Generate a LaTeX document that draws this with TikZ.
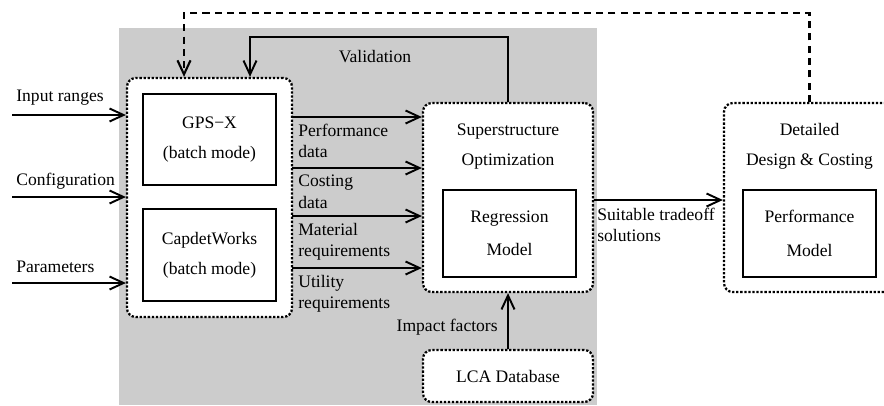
\documentclass[tikz,border=0pt]{standalone}
\usepackage{fontspec}
\setmainfont{Liberation Serif}
\usetikzlibrary{arrows.meta,positioning,calc}

\begin{document}
\begin{tikzpicture}[
    font=\fontsize{10}{12}\selectfont, >={Straight Barb[length=2.8mm, width=2.6mm]},
    grp/.style={rectangle, rounded corners=5pt, draw, dash pattern=on 1.3pt off 1pt, line width=1.3pt, fill=white},
    tool/.style={rectangle, draw, line width=1pt, fill=white, minimum width=2.66cm, align=center},
    head/.style={align=center, inner sep=0pt},
    lbl/.style={align=left, inner sep=0pt},
    flow/.style={->, line width=1.1pt},
    fb/.style={->, line width=1.2pt, dash pattern=on 4pt off 3pt}
]
    \useasboundingbox (0,0) rectangle (17.68,8.1);
    % shaded region
    \fill[black!20] (2.38,0) rectangle (11.94,7.54);
    % simulation tools
    \node[grp, minimum width=3.30cm, minimum height=4.78cm] (sim) at (4.19,4.15) {};
    \node[tool, minimum height=1.82cm] (gps) at (4.19,5.31) {GPS−X\\[5pt](batch mode)};
    \node[tool, minimum height=1.84cm] (capdet) at (4.19,3.00) {CapdetWorks\\[5pt](batch mode)};
    % optimization
    \node[grp, minimum width=3.40cm, minimum height=3.78cm] (super) at (10.16,4.15) {};
    \node[head] (supertxt) at (10.16,5.17) {Superstructure\\[5pt]Optimization};
    \node[tool, minimum height=1.74cm] (regr) at (10.19,3.43) {Regression\\[7pt]Model};
    \node[grp, minimum width=3.40cm, minimum height=1.04cm] (lca) at (10.16,0.58) {LCA Database};
    % detailed design
    \node[grp, minimum width=3.42cm, minimum height=3.78cm] (detail) at (16.19,4.15) {};
    \node[head] (detailtxt) at (16.19,5.17) {Detailed\\[5pt]Design \& Costing};
    \node[tool, minimum height=1.74cm] (perf) at (16.19,3.43) {Performance\\[7pt]Model};
    % inputs
    \coordinate (in1) at (0.24,5.80);
    \coordinate (in2) at (0.24,4.16);
    \coordinate (in3) at (0.24,2.44);
    \draw[flow] (in1) -- (in1 -| sim.west);
    \draw[flow] (in2) -- (in2 -| sim.west);
    \draw[flow] (in3) -- (in3 -| sim.west);
    \node[lbl, anchor=west] (inlbl) at (0.32,6.14) {Input ranges};
    \node[lbl, anchor=west] (conflbl) at (0.32,4.48) {Configuration};
    \node[lbl, anchor=west] (parlbl) at (0.32,2.76) {Parameters};
    % simulation outputs
    \coordinate (o1) at (5.84,5.76);
    \coordinate (o2) at (5.84,4.74);
    \coordinate (o3) at (5.84,3.78);
    \coordinate (o4) at (5.84,2.74);
    \draw[flow] (o1) -- (o1 -| super.west);
    \draw[flow] (o2) -- (o2 -| super.west);
    \draw[flow] (o3) -- (o3 -| super.west);
    \draw[flow] (o4) -- (o4 -| super.west);
    \node[lbl, anchor=north west] (perflbl) at ($(o1)+(0.12,-0.14)$) {Performance\\data};
    \node[lbl, anchor=north west] (costlbl) at ($(o2)+(0.12,-0.14)$) {Costing\\data};
    \node[lbl, anchor=north west] (matlbl) at ($(o3)+(0.12,-0.14)$) {Material\\requirements};
    \node[lbl, anchor=north west] (utillbl) at ($(o4)+(0.12,-0.14)$) {Utility\\requirements};
    % feedback loops
    \coordinate (valtop) at (5.00,7.36);
    \coordinate (fbtop) at (3.68,7.84);
    \draw[flow] (super.north) |- (valtop) -- (valtop |- sim.north);
    \draw[fb] (detail.north) |- (fbtop) -- (fbtop |- sim.north);
    \node (vallbl) at (7.50,6.96) {Validation};
    % remaining links
    \draw[flow] (lca) -- (super);
    \node[lbl, anchor=east] (implbl) at (9.96,1.56) {Impact factors};
    \draw[flow] (super.east |- 0,4.10) -- (detail.west |- 0,4.10);
    \node[lbl, anchor=north west] (sollbl) at (11.94,3.94) {Suitable tradeoff\\solutions};
\end{tikzpicture}
\end{document}
